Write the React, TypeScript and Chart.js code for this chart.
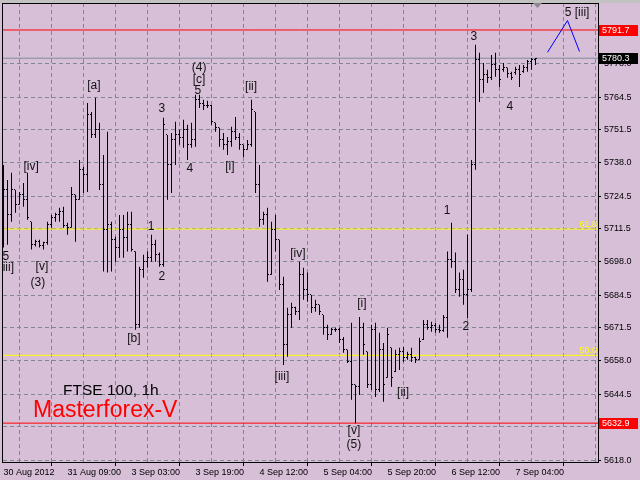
import React, { useEffect, useRef } from "react";
import { Chart, registerables } from "chart.js";

Chart.register(...registerables);

// ---------------- data ----------------
const xTickLabels = ["30 Aug 2012", "31 Aug 09:00", "3 Sep 03:00", "3 Sep 19:00", "4 Sep 12:00", "5 Sep 04:00", "5 Sep 20:00", "6 Sep 12:00", "7 Sep 04:00"];
const yTickValues = [5618.0, 5631.5, 5644.5, 5658.0, 5671.5, 5684.5, 5698.0, 5711.5, 5724.5, 5738.0, 5751.5, 5764.5, 5778.0];

const highs = [
  5737.2, 5731.1, 5734.0, 5727.1, 5726.3, 5729.9, 5734.0, 5714.2, 5707.0, 5707.0,
  5706.2, 5714.2, 5717.0, 5717.9, 5719.9, 5720.3, 5713.8, 5728.3, 5725.1, 5739.2,
  5736.4, 5762.2, 5758.6, 5764.3, 5754.2, 5741.2, 5750.6, 5714.2, 5708.2, 5717.0,
  5717.0, 5718.3, 5718.3, 5702.2, 5696.1, 5700.9, 5702.2, 5709.0, 5707.0, 5701.8,
  5756.2, 5749.3, 5750.1, 5754.6, 5751.4, 5755.4, 5753.4, 5754.2, 5765.5, 5765.5,
  5763.5, 5763.1, 5761.4, 5754.2, 5752.2, 5750.1, 5748.5, 5752.6, 5756.6, 5750.1,
  5745.3, 5747.3, 5763.5, 5758.6, 5737.2, 5718.3, 5719.9, 5714.2, 5717.0, 5707.0,
  5692.0, 5679.5, 5681.5, 5679.9, 5698.1, 5695.7, 5693.7, 5684.7, 5682.7, 5680.7,
  5676.6, 5672.6, 5671.4, 5671.4, 5671.4, 5667.7, 5662.5, 5673.4, 5648.4, 5675.8,
  5673.4, 5661.7, 5672.6, 5673.4, 5669.4, 5665.3, 5671.4, 5663.3, 5662.5, 5663.3,
  5663.7, 5661.7, 5663.3, 5659.7, 5667.4, 5674.6, 5674.6, 5673.8, 5673.4, 5672.6,
  5676.6, 5702.2, 5713.8, 5701.8, 5693.7, 5694.9, 5709.0, 5739.2, 5785.7, 5782.5,
  5778.4, 5775.6, 5781.6, 5782.5, 5777.6, 5778.4, 5776.4, 5774.8, 5776.8, 5777.6,
  5777.6, 5779.6, 5780.4, 5780.4,
];
const lows = [
  5703.8, 5705.0, 5714.2, 5717.9, 5721.1, 5720.3, 5715.0, 5703.0, 5704.2, 5703.8,
  5703.0, 5705.0, 5711.8, 5714.2, 5714.2, 5711.8, 5709.0, 5711.8, 5706.2, 5723.1,
  5725.9, 5726.3, 5748.1, 5748.1, 5727.1, 5694.1, 5693.7, 5694.1, 5698.1, 5699.7,
  5699.7, 5702.2, 5702.2, 5670.6, 5671.4, 5691.6, 5695.7, 5698.1, 5698.1, 5696.1,
  5696.1, 5723.1, 5725.9, 5737.2, 5745.3, 5744.1, 5739.2, 5744.1, 5744.5, 5760.2,
  5759.4, 5760.2, 5753.4, 5750.6, 5744.5, 5743.3, 5741.2, 5744.5, 5747.3, 5743.3,
  5740.4, 5743.3, 5744.5, 5725.9, 5712.2, 5713.0, 5690.0, 5692.8, 5702.2, 5686.7,
  5656.4, 5659.7, 5671.4, 5676.6, 5674.6, 5682.7, 5681.9, 5677.4, 5677.9, 5676.6,
  5668.6, 5666.5, 5668.6, 5669.8, 5665.3, 5661.3, 5657.2, 5642.3, 5632.9, 5644.3,
  5660.5, 5647.1, 5646.3, 5643.5, 5645.5, 5641.5, 5651.2, 5647.6, 5653.6, 5654.4,
  5657.6, 5658.5, 5657.6, 5657.2, 5658.5, 5666.5, 5670.6, 5669.8, 5669.4, 5669.4,
  5669.8, 5667.4, 5695.7, 5685.5, 5683.9, 5680.7, 5675.4, 5685.9, 5735.2, 5762.6,
  5766.3, 5770.3, 5771.5, 5772.8, 5768.7, 5774.8, 5772.4, 5771.5, 5773.6, 5768.7,
  5774.4, 5774.8, 5775.6, 5777.6,
];
const opens = [
  5707.0, 5727.1, 5717.0, 5727.1, 5721.1, 5725.1, 5723.1, 5714.2, 5705.0, 5706.2,
  5704.6, 5705.8, 5713.0, 5715.8, 5717.0, 5718.3, 5712.6, 5711.8, 5725.1, 5723.1,
  5735.2, 5733.2, 5757.4, 5749.3, 5751.4, 5729.1, 5711.0, 5713.0, 5707.0, 5703.8,
  5711.0, 5707.8, 5713.0, 5702.2, 5672.6, 5694.9, 5698.1, 5699.7, 5705.0, 5700.9,
  5696.9, 5749.3, 5737.2, 5747.3, 5749.3, 5748.1, 5751.4, 5745.3, 5747.3, 5763.5,
  5762.2, 5761.4, 5761.0, 5754.2, 5752.2, 5747.3, 5745.3, 5746.5, 5750.6, 5748.1,
  5745.3, 5743.3, 5745.3, 5758.6, 5729.1, 5715.0, 5717.0, 5692.8, 5711.0, 5707.0,
  5688.8, 5664.5, 5676.6, 5679.5, 5677.9, 5692.8, 5686.7, 5684.7, 5679.5, 5680.7,
  5676.6, 5671.4, 5668.6, 5670.6, 5670.6, 5666.5, 5662.5, 5657.6, 5648.4, 5647.6,
  5671.4, 5661.7, 5648.4, 5670.6, 5646.3, 5662.5, 5651.2, 5663.3, 5653.6, 5660.5,
  5661.7, 5659.3, 5660.5, 5659.3, 5658.5, 5666.5, 5672.6, 5671.4, 5672.2, 5670.6,
  5670.2, 5675.4, 5698.9, 5698.1, 5686.7, 5690.8, 5684.7, 5686.7, 5737.2, 5779.6,
  5771.5, 5773.6, 5772.4, 5777.6, 5775.6, 5775.6, 5776.4, 5774.0, 5774.4, 5775.6,
  5774.8, 5776.4, 5778.8, 5779.6,
];
const closes = [
  5727.1, 5717.0, 5727.1, 5721.1, 5725.1, 5723.1, 5715.8, 5705.0, 5706.2, 5704.6,
  5705.8, 5713.0, 5715.8, 5717.0, 5718.3, 5712.6, 5711.8, 5725.1, 5723.1, 5735.2,
  5733.2, 5757.4, 5749.3, 5751.4, 5729.1, 5711.0, 5713.0, 5707.0, 5703.8, 5711.0,
  5707.8, 5713.0, 5703.0, 5672.6, 5694.9, 5698.1, 5699.7, 5705.0, 5700.9, 5696.9,
  5753.4, 5737.2, 5747.3, 5749.3, 5748.1, 5751.4, 5745.3, 5747.3, 5763.5, 5762.2,
  5761.4, 5761.0, 5754.6, 5752.2, 5747.3, 5745.3, 5746.5, 5750.6, 5748.1, 5745.3,
  5743.3, 5745.3, 5759.4, 5729.1, 5715.0, 5717.0, 5692.8, 5711.0, 5707.0, 5688.8,
  5664.5, 5676.6, 5679.5, 5677.9, 5692.8, 5686.7, 5684.7, 5679.5, 5680.7, 5677.9,
  5671.4, 5668.6, 5670.6, 5670.6, 5666.5, 5662.5, 5657.6, 5648.4, 5647.6, 5671.4,
  5664.5, 5648.4, 5670.6, 5646.3, 5662.5, 5648.4, 5668.6, 5651.2, 5660.5, 5661.7,
  5659.3, 5660.5, 5659.3, 5658.5, 5665.7, 5672.6, 5671.4, 5672.2, 5670.6, 5670.2,
  5675.4, 5698.9, 5698.1, 5686.7, 5690.8, 5684.7, 5686.7, 5737.2, 5779.6, 5771.5,
  5773.6, 5772.4, 5777.6, 5775.6, 5771.5, 5776.4, 5774.0, 5772.4, 5775.6, 5773.6,
  5776.4, 5778.8, 5779.6, 5780.3,
];

// horizontal levels
const redLevels = [5791.7, 5632.9];
const priceLevel = 5780.3;
const fibLevels = [5711.3, 5660.3];
const fibTexts = ["61.8", "50.0"];

// projected wave (bar index, price)
const forecastX = [136, 141, 144];
const forecastY = [5782.7, 5795.5, 5783.0];

// wave labels (bar index, price)
const waveText = ["[iv]", "[a]", "3", "(4)", "[c]", "5", "4", "1", "[ii]", "[i]", "3", "4", "1", "5 [iii]", "5", "[iii]", "[v]", "(3)", "2", "[b]", "[iv]", "[iii]", "[i]", "[ii]", "[v]", "(5)", "2"];
const waveX = [6.9, 22.6, 39.6, 48.9, 48.9, 48.6, 46.6, 36.9, 61.9, 56.6, 117.6, 126.6, 110.9, 143.4, 0.6, 0.8, 9.6, 8.6, 39.6, 32.6, 73.6, 69.6, 89.6, 99.9, 87.6, 87.6, 115.6];
const waveY = [5736.4, 5769.1, 5759.9, 5776.4, 5771.6, 5767.1, 5735.6, 5712.2, 5768.7, 5736.4, 5788.9, 5760.7, 5718.7, 5798.6, 5700.0, 5695.6, 5695.9, 5689.5, 5692.0, 5666.9, 5701.3, 5651.6, 5681.1, 5645.1, 5629.8, 5624.1, 5671.8];

// ---------------- chart ----------------
const X_MIN = -0.125;
const X_MAX = 148.625;
const Y_MIN = 5617.2;
const Y_MAX = 5802.6;
const BG = "#D8BFD8";
const GRID = "#7f8795";
const FONT = "Liberation Sans";

function tickImage(side: "left" | "right") {
  const c = document.createElement("canvas");
  c.width = 3;
  c.height = 1;
  const g = c.getContext("2d")!;
  g.fillStyle = "#000";
  g.fillRect(side === "left" ? 0 : 2, 0, 1, 1);
  return c;
}

const hLine = (v: number, color: string, order = 10) => ({
  type: "line" as const,
  data: [{ x: X_MIN, y: v }, { x: X_MAX, y: v }],
  borderColor: color,
  borderWidth: 1,
  pointRadius: 0,
  showLine: true,
  order,
});

const decor = {
  id: "decor",
  beforeDraw(chart: any) {
    const { ctx, width, height } = chart;
    ctx.save();
    ctx.fillStyle = BG;
    ctx.fillRect(0, 0, width, height);
    ctx.fillStyle = "#c2c2c2";
    ctx.fillRect(0, 0, width, 3);
    ctx.restore();
  },
  afterDatasetsDraw(chart: any) {
    const { ctx, chartArea: a, scales } = chart;
    const xs = scales.x, ys = scales.y;
    ctx.save();
    ctx.beginPath();
    ctx.rect(a.left, a.top, a.right - a.left, a.bottom - a.top);
    ctx.clip();
    ctx.font = `12px ${FONT}`;
    ctx.fillStyle = "#111";
    ctx.textAlign = "center";
    ctx.textBaseline = "middle";
    waveText.forEach((t, i) => {
      ctx.fillText(t, xs.getPixelForValue(waveX[i]), ys.getPixelForValue(waveY[i]));
    });
    // fib labels
    ctx.font = `9px ${FONT}`;
    ctx.fillStyle = "#ffff00";
    ctx.textAlign = "right";
    ctx.textBaseline = "alphabetic";
    fibLevels.forEach((v, i) => {
      ctx.fillText(fibTexts[i], a.right - 1, ys.getPixelForValue(v) - 2);
    });
    // watermark texts
    ctx.textAlign = "left";
    ctx.fillStyle = "#000";
    ctx.font = `15.5px ${FONT}`;
    ctx.fillText("FTSE 100, 1h", 63, 395);
    ctx.fillStyle = "#ff0000";
    ctx.font = `23px ${FONT}`;
    ctx.fillText("Masterforex-V", 33, 417);
    ctx.restore();
  },
  afterDraw(chart: any) {
    const { ctx, chartArea: a, scales } = chart;
    const ys = scales.y;
    ctx.save();
    // frame
    ctx.strokeStyle = "#000";
    ctx.lineWidth = 1;
    ctx.beginPath();
    ctx.moveTo(2.5, 3);
    ctx.lineTo(2.5, a.bottom + 1);
    ctx.moveTo(2, 3.5);
    ctx.lineTo(a.right + 1, 3.5);
    ctx.stroke();
    // shift marker
    ctx.fillStyle = "#8a8a8a";
    ctx.beginPath();
    ctx.moveTo(533, 3);
    ctx.lineTo(542, 3);
    ctx.lineTo(537.5, 8);
    ctx.closePath();
    ctx.fill();
    // price boxes
    const boxes: [number, string][] = [[redLevels[0], "#ff0000"], [priceLevel, "#000000"], [redLevels[1], "#ff0000"]];
    ctx.font = `9px ${FONT}`;
    ctx.textAlign = "left";
    ctx.textBaseline = "middle";
    boxes.forEach(([v, c]) => {
      const y = Math.round(ys.getPixelForValue(v));
      ctx.fillStyle = c;
      ctx.fillRect(a.right + 1, y - 5, 39, 11);
      ctx.fillStyle = "#ffffff";
      ctx.fillText(v.toFixed(1), a.right + 4, y + 0.5);
    });
    ctx.restore();
  },
};

export default function App() {
  const ref = useRef<HTMLCanvasElement>(null);
  useEffect(() => {
    const canvas = ref.current!;
    const openImg = tickImage("left");
    const closeImg = tickImage("right");
    const gridIdx: number[] = [];
    for (let v = 0; v <= 144; v += 8) gridIdx.push(v);

    const chart = new Chart(canvas, {
      type: "scatter",
      data: {
        datasets: [
          {
            type: "bar",
            data: highs.map((h, i) => ({ x: i, y: [lows[i], h] })),
            backgroundColor: "#000",
            borderWidth: 0,
            barThickness: 1,
            inflateAmount: 0,
            grouped: false,
            order: 2,
          } as any,
          {
            type: "scatter",
            data: opens.map((o, i) => ({ x: i, y: o })),
            pointStyle: openImg,
            pointRadius: 1,
            pointBorderWidth: 0,
            order: 1,
          } as any,
          {
            type: "scatter",
            data: closes.map((c, i) => ({ x: i, y: c })),
            pointStyle: closeImg,
            pointRadius: 1,
            pointBorderWidth: 0,
            order: 1,
          } as any,
          hLine(fibLevels[0], "#ffff00"),
          hLine(fibLevels[1], "#ffff00"),
          hLine(priceLevel, "#7d8c9c"),
          hLine(redLevels[0], "#ff0000"),
          hLine(redLevels[1], "#ff0000"),
          {
            type: "line",
            data: forecastX.map((x, i) => ({ x, y: forecastY[i] })),
            borderColor: "#0000ff",
            borderWidth: 1,
            pointRadius: 0,
            showLine: true,
            order: 0,
          } as any,
        ],
      },
      options: {
        animation: false,
        responsive: false,
        events: [],
        devicePixelRatio: 1,
        layout: { autoPadding: false, padding: { left: 3, top: 3, right: 0, bottom: 0 } },
        plugins: { legend: { display: false }, tooltip: { enabled: false } },
        scales: {
          x: {
            type: "linear",
            min: X_MIN,
            max: X_MAX,
            offset: false,
            afterBuildTicks: (s: any) => {
              s.ticks = gridIdx.map((v) => ({ value: v }));
            },
            afterFit: (s: any) => {
              s.height = 18;
              s.paddingLeft = 0;
              s.paddingRight = 0;
              s.paddingTop = 0;
              s.paddingBottom = 0;
            },
            ticks: {
              autoSkip: false,
              maxRotation: 0,
              minRotation: 0,
              align: "start",
              padding: 1,
              color: "#000",
              font: { family: FONT, size: 9 },
              callback: (v: any) => {
                const k = Number(v) / 16;
                return Number.isInteger(k) && k < xTickLabels.length ? xTickLabels[k] : "";
              },
            },
            grid: {
              color: GRID,
              lineWidth: 1,
              tickLength: 4,
              tickColor: (c: any) => (c.tick && c.tick.value % 16 === 0 ? "#000" : "rgba(0,0,0,0)"),
            },
            border: { display: true, color: "#000", width: 1, dash: [4, 3] },
          },
          y: {
            type: "linear",
            position: "right",
            min: Y_MIN,
            max: Y_MAX,
            afterBuildTicks: (s: any) => {
              s.ticks = yTickValues.map((v) => ({ value: v }));
            },
            afterFit: (s: any) => {
              s.width = 42;
              s.paddingLeft = 0;
              s.paddingRight = 0;
              s.paddingTop = 0;
              s.paddingBottom = 0;
            },
            ticks: {
              autoSkip: false,
              padding: 3,
              color: "#000",
              font: { family: FONT, size: 9 },
              callback: (v: any) => Number(v).toFixed(1),
            },
            grid: { color: GRID, lineWidth: 1, tickLength: 3, tickColor: "#000" },
            border: { display: true, color: "#000", width: 1, dash: [4, 3] },
          },
        },
      } as any,
      plugins: [decor],
    });
    return () => chart.destroy();
  }, []);

  return (
    <div style={{ position: "fixed", left: 0, top: 0, width: 640, height: 480, background: BG }}>
      <canvas ref={ref} width={640} height={480} style={{ display: "block", width: 640, height: 480 }} />
    </div>
  );
}
